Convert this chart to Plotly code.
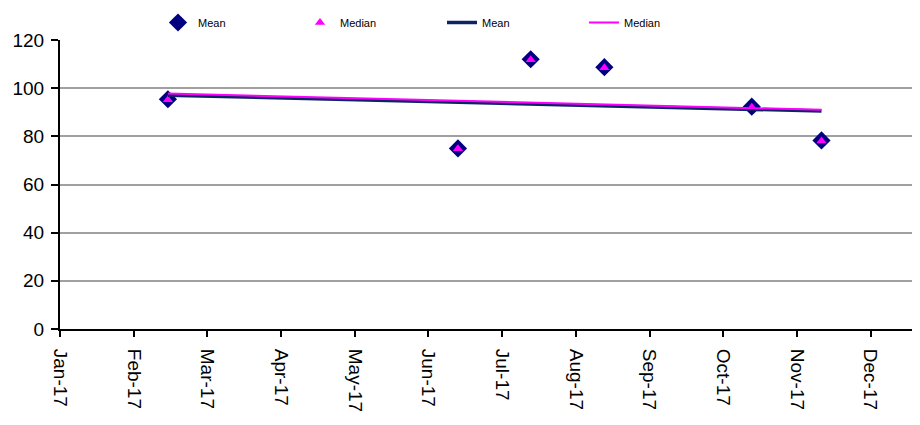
import calendar
import datetime as dt
import plotly.graph_objects as go

# ---- data ----
month_labels = ["Jan-17", "Feb-17", "Mar-17", "Apr-17", "May-17", "Jun-17",
                "Jul-17", "Aug-17", "Sep-17", "Oct-17", "Nov-17", "Dec-17"]
sample_dates = ["2017-02-14", "2017-06-13", "2017-07-13", "2017-08-13",
                "2017-10-13", "2017-11-11"]
mean_values = [95.4, 75.0, 112.0, 108.7, 92.3, 78.3]
median_values = [95.2, 74.8, 111.8, 108.5, 92.1, 78.1]
trend_dates = ["2017-02-14", "2017-11-11"]
mean_trend = [97.1, 90.5]
median_trend = [97.8, 91.0]


# Excel-style monthly date axis: every month gets equal width
def month_pos(s):
    d = dt.date.fromisoformat(s)
    days = calendar.monthrange(d.year, d.month)[1]
    return (d.month - 1) + (d.day - 1) / days


x_pts = [month_pos(s) for s in sample_dates]
x_trend = [month_pos(s) for s in trend_dates]

NAVY = "#000080"
NAVY_LINE = "#0c2466"
MAGENTA = "#FF00FF"

fig = go.Figure()
fig.add_trace(go.Scatter(
    x=x_pts, y=mean_values, mode="markers", name="Mean",
    marker=dict(symbol="diamond", size=14, color=NAVY, line=dict(width=0)),
))
fig.add_trace(go.Scatter(
    x=x_pts, y=median_values, mode="markers", name="Median",
    marker=dict(symbol="triangle-up", size=9, color=MAGENTA, line=dict(width=0)),
))
fig.add_trace(go.Scatter(
    x=x_trend, y=mean_trend, mode="lines", name="Mean",
    line=dict(color=NAVY_LINE, width=3.5),
))
fig.add_trace(go.Scatter(
    x=x_trend, y=median_trend, mode="lines", name="Median",
    line=dict(color=MAGENTA, width=2),
))

# page body has an 8px margin, so the figure is sized to fit the window
fig.update_layout(
    width=912, height=417,
    margin=dict(l=52, r=0, t=32, b=96, autoexpand=False),
    paper_bgcolor="white", plot_bgcolor="white",
    font=dict(family="Liberation Sans, Arial, sans-serif", color="black"),
    showlegend=True,
    legend=dict(
        orientation="h", xref="container", yref="container",
        x=150 / 912, xanchor="left", y=1.0, yanchor="top",
        font=dict(size=11), entrywidth=97, entrywidthmode="pixels",
        bgcolor="rgba(0,0,0,0)",
    ),
    xaxis=dict(
        range=[0, 11.67], tickmode="array",
        tickvals=list(range(len(month_labels))), ticktext=month_labels,
        tickangle=90, tickfont=dict(size=19), automargin=False,
        ticklabelstandoff=8,
        showgrid=False, zeroline=False,
        showline=True, linecolor="black", linewidth=2,
        ticks="outside", ticklen=6, tickwidth=2, tickcolor="black",
    ),
    yaxis=dict(
        range=[0, 120], tickvals=[0, 20, 40, 60, 80, 100, 120],
        tickfont=dict(size=19), automargin=False,
        ticklabelstandoff=3,
        showgrid=True, gridcolor="#a0a0a0", gridwidth=1.5,
        zeroline=False,
        showline=True, linecolor="black", linewidth=2,
        ticks="outside", ticklen=7, tickwidth=2, tickcolor="black",
    ),
)

fig.write_html("out.html")
